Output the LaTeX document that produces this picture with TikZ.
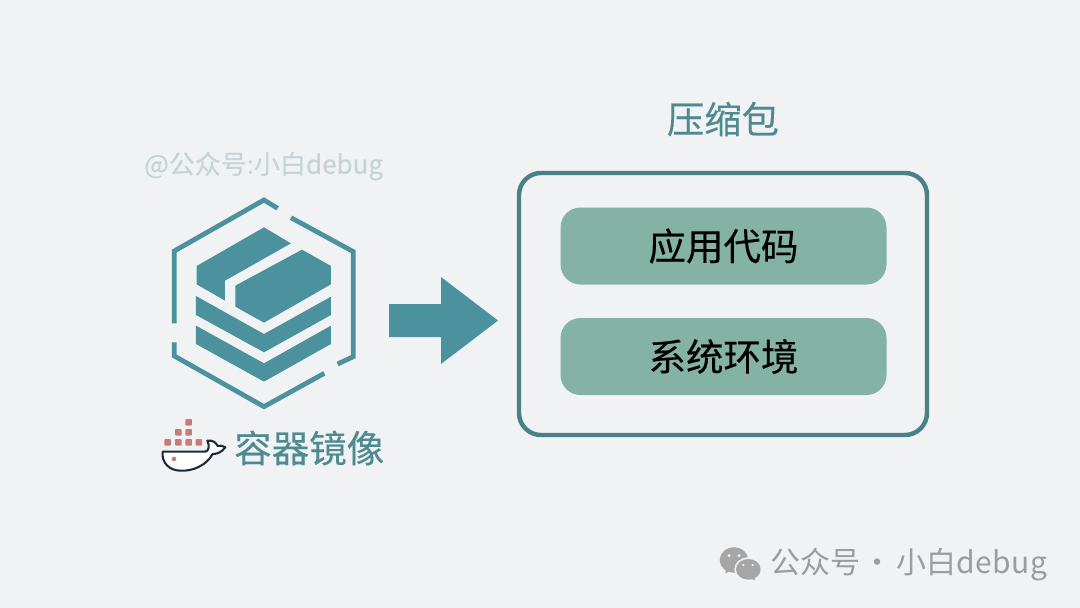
\documentclass[tikz,border=0pt]{standalone}
\usepackage{fontspec}
\setmainfont{Noto Sans CJK SC}
\newfontfamily\medf[FakeBold=0.25]{Noto Sans CJK SC}
\definecolor{bgc}{HTML}{F0F2F4}
\definecolor{teal1}{HTML}{4C929E}
\definecolor{teal2}{HTML}{4A8187}
\definecolor{greenb}{HTML}{84B3A5}
\definecolor{wm}{HTML}{C6D4D7}
\definecolor{ttl}{HTML}{4F8A90}
\definecolor{gr}{HTML}{9C9C9C}
\definecolor{gric}{HTML}{A6A6A6}
\definecolor{sq}{HTML}{C67D7A}
\definecolor{whale}{HTML}{1E2B3A}
\tikzset{
  hexline/.style={draw=teal1,line width=4.8pt,line cap=butt,line join=miter},
  slab/.style={fill=teal1,draw=none},
  outerbox/.style={draw=teal2,line width=4.4pt,rounded corners=22pt,minimum width=408pt,minimum height=262pt,inner sep=0pt},
  innerbox/.style={fill=greenb,draw=none,rounded corners=20pt,minimum width=326pt,minimum height=77pt,inner sep=0pt,font=\medf\fontsize{37.5}{38}\selectfont,text=black},
  dsq/.style={fill=sq,draw=none,minimum size=6.5pt,inner sep=0pt,rounded corners=0.8pt},
}
\begin{document}
\begin{tikzpicture}[x=1pt,y=-1pt]
\path[use as bounding box,fill=bgc] (0,0) rectangle (1080,608);
% hexagon & slabs
\begin{scope}[shift={(130,140)},x=0.3333pt,y=-0.3333pt]
\draw[hexline] (133,550)--(133,333)--(402,180)--(443,205);
\draw[hexline] (483,233)--(670,335)--(670,650)--(623,672);
\draw[hexline] (133,607)--(133,648)--(402,800)--(583,700);
\fill[slab] (200,378)--(402,262)--(483,310)--(285,422)--(285,482)--(200,433)--cycle;
\fill[slab] (316,437)--(516,329)--(603,378)--(603,433)--(402,548)--(316,500)--cycle;
\fill[slab] (198,468)--(402,582)--(603,470)--(603,525)--(402,637)--(198,525)--cycle;
\fill[slab] (198,557)--(402,670)--(603,557)--(603,612)--(402,725)--(198,612)--cycle;
\end{scope}
% arrow
\fill[teal1] (389,304)--(441,304)--(441,277)--(498,320.5)--(441,364)--(441,337)--(389,337)--cycle;
% boxes
\node[outerbox] (pkg) at (723,304) {};
\node[innerbox] (code) at (723.5,246) {应用代码};
\node[innerbox] (env) at (723.5,356.5) {系统环境};
\node[font=\medf\fontsize{37.3}{38}\selectfont,text=ttl] (title) at (723,119) {压缩包};
\node[font=\medf\fontsize{37.5}{38}\selectfont,text=ttl,inner sep=0pt,anchor=west] (img) at (234,448) {容器镜像};
\node[font=\medf\fontsize{26}{27}\selectfont,text=wm,inner sep=0pt,anchor=west] (wm1) at (144,166) {@公众号:小白debug};
% docker whale
\begin{scope}[shift={(150,410)},x=0.3333pt,y=-0.3333pt]
\foreach \p/\q in {116/37,85/67,116/67,53/97,85/97,116/97,147/97}
  \node[dsq] at (\p,\q) {};
\draw[whale,line width=2.1pt,fill=white,line join=round]
  (38,125)--(165,125) .. controls (176,125) and (180,108) .. (172,92)
  .. controls (190,90) and (198,98) .. (203,108)
  .. controls (210,106) and (218,106) .. (226,112)
  .. controls (214,128) and (200,132) .. (188,132)
  .. controls (170,165) and (130,184) .. (92,182)
  .. controls (60,182) and (34,160) .. (38,125) -- cycle;
\fill[sq] (72,147) circle (7);
\end{scope}
% wechat icon
\begin{scope}[shift={(710,530)},x=0.3333pt,y=-0.3333pt]
\fill[gric] (72,90) ellipse (43 and 38);
\fill[gric] (48,115)--(46,130)--(70,118)--cycle;
\fill[bgc] (115,118) ellipse (42 and 36);
\fill[gric] (115,118) ellipse (37 and 31);
\fill[gric] (128,140)--(137,150)--(110,145)--cycle;
\fill[bgc] (57,77) circle (5); \fill[bgc] (87,77) circle (5);
\fill[bgc] (100,105) circle (4); \fill[bgc] (128,105) circle (4);
\end{scope}
\node[font=\fontsize{30}{31}\selectfont,text=gr,inner sep=0pt,anchor=west] (wm2) at (770,565) {公众号\hspace{2pt}·\hspace{4pt}小白{\addfontfeatures{LetterSpace=2}debug}};
\end{tikzpicture}
\end{document}
